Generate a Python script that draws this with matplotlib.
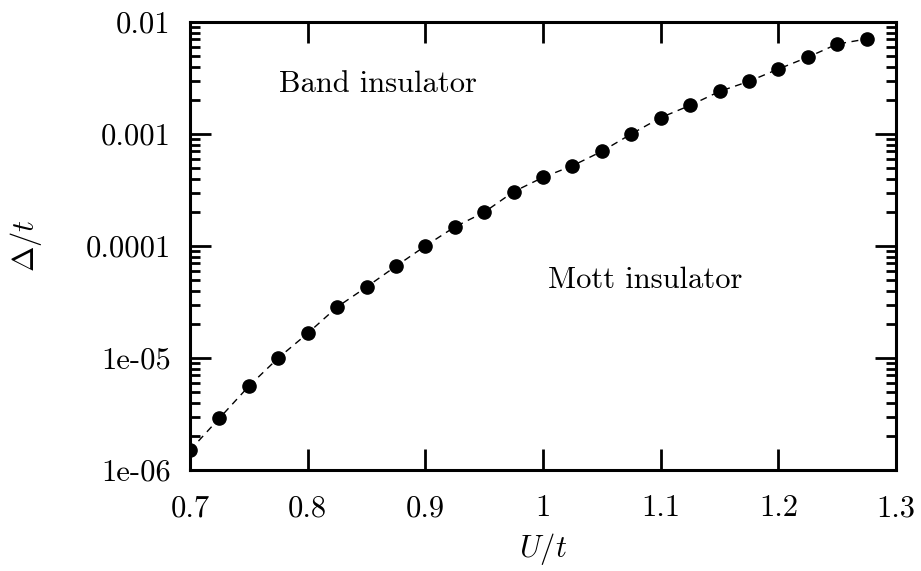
import numpy as np
import matplotlib
matplotlib.use('Agg')
from matplotlib import pyplot as plt
from matplotlib.ticker import FixedLocator, FixedFormatter, LogLocator, NullFormatter

# data
u_over_t = [0.700, 0.725, 0.750, 0.775, 0.800, 0.825, 0.850, 0.875, 0.900, 0.925,
            0.950, 0.975, 1.000, 1.025, 1.050, 1.075, 1.100, 1.125, 1.150, 1.175,
            1.200, 1.225, 1.250, 1.275]
gap = [1.5e-6, 2.9e-6, 5.6e-6, 1.0e-5, 1.66e-5, 2.85e-5, 4.3e-5, 6.6e-5, 1.0e-4, 1.48e-4,
       2.0e-4, 3.05e-4, 4.1e-4, 5.2e-4, 7.0e-4, 1.0e-3, 1.4e-3, 1.8e-3, 2.4e-3, 2.95e-3,
       3.8e-3, 4.85e-3, 6.35e-3, 7.05e-3]

xticks = [0.7, 0.8, 0.9, 1.0, 1.1, 1.2, 1.3]
xtick_labels = ['0.7', '0.8', '0.9', '1', '1.1', '1.2', '1.3']
yticks = [1e-6, 1e-5, 1e-4, 1e-3, 1e-2]
ytick_labels = ['1e-06', '1e-05', '0.0001', '0.001', '0.01']

plt.rcParams['font.family'] = ['cmr10', 'DejaVu Serif']
plt.rcParams['mathtext.fontset'] = 'cm'
plt.rcParams['axes.formatter.use_mathtext'] = True
plt.rcParams['font.size'] = 22

fig = plt.figure(figsize=(9.21, 5.71), dpi=100)
ax = fig.add_axes([0.2063, 0.1769, 0.7666, 0.7846])

ax.plot(u_over_t, gap, linestyle='--', color='black', linewidth=1.0, dashes=(5, 4))
ax.plot(u_over_t, gap, linestyle='none', marker='o', color='black', markersize=9.5)

ax.set_yscale('log')
ax.set_xlim(0.7, 1.3)
ax.set_ylim(1e-6, 1e-2)

ax.xaxis.set_major_locator(FixedLocator(xticks))
ax.xaxis.set_major_formatter(FixedFormatter(xtick_labels))
ax.yaxis.set_major_locator(FixedLocator(yticks))
ax.yaxis.set_major_formatter(FixedFormatter(ytick_labels))
ax.yaxis.set_minor_locator(LogLocator(base=10, subs=np.arange(2, 10)))
ax.yaxis.set_minor_formatter(NullFormatter())

ax.tick_params(which='both', direction='in', top=True, right=True, width=2.0)
ax.tick_params(which='major', length=15)
ax.tick_params(which='minor', length=7.5)
ax.tick_params(axis='x', which='major', pad=18)
ax.tick_params(axis='y', which='major', pad=14)
for s in ax.spines.values():
    s.set_linewidth(2.2)

ax.set_xlabel(r'$U/t$', labelpad=6)
ax.set_ylabel(r'$\Delta/t$', labelpad=30)

ax.text(0.86, 2.8e-3, 'Band insulator', ha='center', va='center')
ax.text(1.087, 4.9e-5, 'Mott insulator', ha='center', va='center')

fig.savefig('out.png', dpi=100)
